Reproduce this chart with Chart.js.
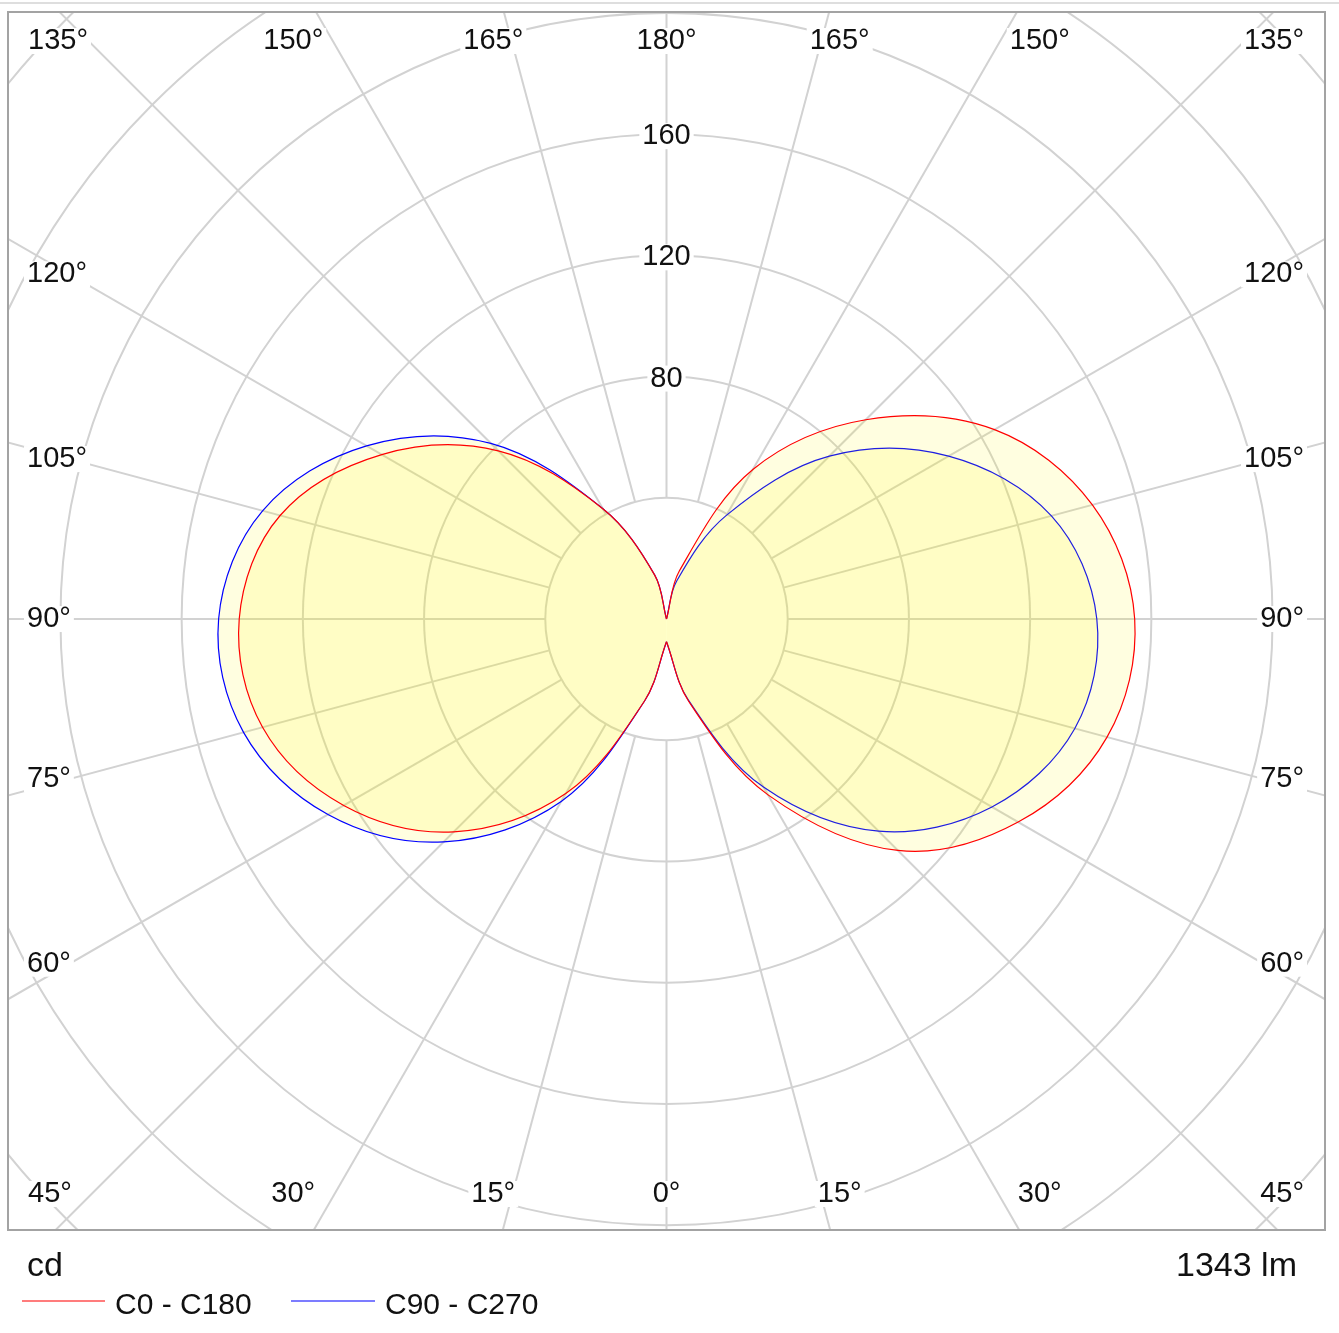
<!DOCTYPE html>
<html>
<head>
<meta charset="utf-8">
<script src="https://cdn.jsdelivr.net/npm/chart.js@4.4.1/dist/chart.umd.min.js"></script>
<style>
  body { margin: 0; background: #fff; font-family: 'Liberation Sans', Arial, sans-serif; color: #111; }
  #page { position: relative; width: 1339px; height: 1333px; overflow: hidden; }
  #topline { position: absolute; left: 0; top: 2px; width: 1339px; height: 2px; background: #dedede; }
  canvas { position: absolute; left: 0; top: 0; }
  .txt { position: absolute; white-space: nowrap; line-height: 1; }
  .unit { left: 27px; top: 1247px; font-size: 34px; }
  .flux { right: 42px; top: 1247px; font-size: 34px; }
  .leg { top: 1289px; font-size: 30px; }
  .swatch { position: absolute; top: 1300px; height: 2px; }
</style>
</head>
<body>
<div id="page">
  <div id="topline"></div>
  <canvas id="polar" width="1339" height="1333"></canvas>
  <div class="txt unit">cd</div>
  <div class="txt flux">1343 lm</div>
  <div class="swatch" style="left:22px;width:83px;background:#ff7c7c"></div>
  <div class="txt leg" style="left:115px">C0 - C180</div>
  <div class="swatch" style="left:291px;width:84px;background:#7c7cff"></div>
  <div class="txt leg" style="left:385px">C90 - C270</div>
</div>
<script>
// gamma angles (0 = straight down, 180 = straight up)
const GAMMA = [0, 15, 30, 45, 60, 75, 90, 105, 120, 135, 150, 165, 180];

// luminous intensity in cd
const C0   = [7.5, 28, 67, 108, 134, 150.5, 154.5, 145.5, 125, 93, 57, 16.5, 0];
const C180 = [7.5, 28, 66.5, 99.3, 123, 138, 141, 132, 108.5, 78.5, 42, 15, 0];
const C90  = [7.5, 27.5, 64, 99, 124, 139.5, 142, 131.5, 107.5, 76, 39.5, 13, 0];
const C270 = [7.5, 28, 69.5, 104, 129, 144.5, 147.8, 138, 114.3, 82, 42, 15, 0];

// grid
const RINGS = [40, 80, 120, 160, 200, 240, 280];
const RING_LABELS = [80, 120, 160];
const SPOKE_STEP = 15;
const ANGLE_LABELS = [0, 15, 30, 45, 60, 75, 90, 105, 120, 135, 150, 165, 180];

const RED = '#ff0000';
const BLUE = '#0000ff';
const FILL = 'rgba(255, 245, 0, 0.12)';
const FONT = "29px 'Liberation Sans', Arial, sans-serif";

// one half plane -> x/y points (side: 1 right, -1 left)
function lobe(values, side) {
    return GAMMA.map((g, i) => {
        const t = g * Math.PI / 180;
        return { x: side * values[i] * Math.sin(t), y: -values[i] * Math.cos(t) };
    });
}

function lobeDataset(values, side, color) {
    return {
        data: lobe(values, side),
        borderColor: color,
        borderWidth: 1.2,
        backgroundColor: FILL,
        fill: 'shape',
        pointRadius: 0,
        tension: 0.35
    };
}

function labelBox(ctx, text, x, y, align) {
    const w = ctx.measureText(text).width;
    let left = align === 'left' ? x : align === 'right' ? x - w : x - w / 2;
    ctx.fillStyle = '#fff';
    ctx.fillRect(left - 3, y - 13, w + 6, 26);
    ctx.fillStyle = '#111';
    ctx.textAlign = 'left';
    ctx.fillText(text, left, y);
}

// rings and spokes under the curves
const polarGrid = {
    id: 'polarGrid',
    beforeDatasetsDraw(chart) {
        const { ctx, chartArea: a, scales: { x, y } } = chart;
        const cx = x.getPixelForValue(0), cy = y.getPixelForValue(0);
        ctx.save();
        ctx.beginPath();
        ctx.rect(a.left, a.top, a.right - a.left, a.bottom - a.top);
        ctx.clip();
        ctx.strokeStyle = '#d2d2d2';
        ctx.lineWidth = 2;
        RINGS.forEach(r => {
            const rx = x.getPixelForValue(r) - cx;
            const ry = cy - y.getPixelForValue(r);
            ctx.beginPath();
            ctx.ellipse(cx, cy, rx, ry, 0, 0, Math.PI * 2);
            ctx.stroke();
        });
        const r0 = RINGS[0], far = 500;
        for (let g = 0; g < 360; g += SPOKE_STEP) {
            const t = g * Math.PI / 180;
            const sx = Math.sin(t), sy = -Math.cos(t);
            ctx.beginPath();
            ctx.moveTo(x.getPixelForValue(r0 * sx), y.getPixelForValue(r0 * sy));
            ctx.lineTo(x.getPixelForValue(far * sx), y.getPixelForValue(far * sy));
            ctx.stroke();
        }
        ctx.restore();
    },
    afterDraw(chart) {
        const { ctx, chartArea: a, scales: { x, y } } = chart;
        const cx = x.getPixelForValue(0), cy = y.getPixelForValue(0);
        ctx.save();
        ctx.font = FONT;
        ctx.textBaseline = 'middle';

        // intensity labels on the upward axis
        RING_LABELS.forEach(r => labelBox(ctx, String(r), cx, y.getPixelForValue(r) + 2, 'center'));

        // angle labels round the frame
        const hw = (a.right - a.left) / 2 - 12;
        const hh = (a.bottom - a.top) / 2 - 12;
        const minX = a.left + 20, maxX = a.right - 21;
        ANGLE_LABELS.forEach(g => {
            const sides = (g === 0 || g === 180) ? [1] : [-1, 1];
            sides.forEach(s => {
                const text = g + '°';
                const w = ctx.measureText(text).width;
                if (g <= 45 || g >= 135) {
                    const off = g <= 45 ? g : 180 - g;
                    let px = cx + s * hw * Math.tan(off * Math.PI / 180);
                    px = Math.min(Math.max(px, minX + w / 2), maxX - w / 2);
                    const py = g <= 45 ? a.bottom - 36 : a.top + 29;
                    labelBox(ctx, text, px, py, 'center');
                } else {
                    const py = cy - hh * Math.tan((g - 90) * Math.PI / 180);
                    if (s < 0) labelBox(ctx, text, a.left + 19, py, 'left');
                    else labelBox(ctx, text, a.right - 21, py, 'right');
                }
            });
        });

        // frame
        ctx.strokeStyle = '#a3a3a3';
        ctx.lineWidth = 2;
        ctx.strokeRect(a.left, a.top, a.right - a.left, a.bottom - a.top);
        ctx.restore();
    }
};

new Chart(document.getElementById('polar'), {
    type: 'line',
    data: {
        datasets: [
            lobeDataset(C0, 1, RED),
            lobeDataset(C180, -1, RED),
            lobeDataset(C90, 1, BLUE),
            lobeDataset(C270, -1, BLUE)
        ]
    },
    options: {
        responsive: false,
        devicePixelRatio: 1,
        animation: false,
        events: [],
        layout: { padding: { left: 8, top: 12, right: 14, bottom: 103 } },
        scales: {
            x: { type: 'linear', min: -217.3, max: 217.3, display: false },
            y: { type: 'linear', min: -201.6, max: 200.3, display: false }
        },
        plugins: {
            legend: { display: false },
            tooltip: { enabled: false }
        }
    },
    plugins: [polarGrid]
});
</script>
</body>
</html>
